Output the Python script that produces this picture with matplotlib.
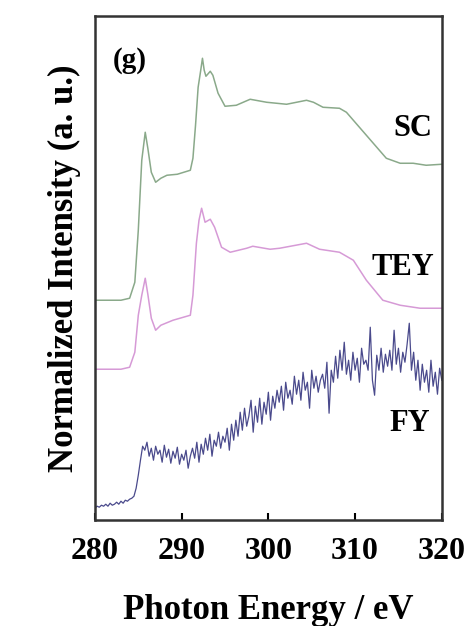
import numpy as np
import matplotlib
matplotlib.use("Agg")
import matplotlib.pyplot as plt

plt.rcParams['font.family'] = ['Liberation Serif', 'DejaVu Serif']
plt.rcParams['font.weight'] = 'bold'

# SC spectrum (offset already applied, arbitrary units)
sc_energy = [280.0, 283.0, 284.0, 284.6, 285.0, 285.4, 285.8, 286.1, 286.5, 287.0,
             287.6, 288.3, 289.5, 291.0, 291.3, 291.6, 291.9, 292.2, 292.4, 292.6,
             292.8, 293.3, 293.6, 294.2, 295.0, 296.3, 297.9, 299.8, 302.1, 304.4,
             305.2, 306.3, 308.2, 309.0, 310.5, 312.1, 313.6, 315.2, 316.7, 318.2,
             320.0]
sc_int = [220, 220, 222, 238, 290, 360, 388, 372, 348, 338,
          342, 345, 346, 350, 362, 395, 433, 450, 462, 450,
          444, 449, 445, 427, 414, 415, 421, 418, 416, 420,
          418, 413, 412, 408, 393, 377, 362, 357, 357, 355,
          356]

# TEY spectrum
tey_energy = [280.0, 283.0, 284.0, 284.6, 285.0, 285.4, 285.8, 286.1, 286.5, 287.0,
              287.6, 289.0, 291.0, 291.3, 291.7, 292.0, 292.3, 292.7, 293.3, 293.8,
              294.6, 295.6, 297.5, 298.2, 300.2, 301.3, 304.4, 305.9, 308.2, 309.8,
              311.3, 313.2, 315.2, 317.5, 320.0]
tey_int = [151, 151, 153, 168, 205, 225, 242, 226, 202, 190,
           195, 200, 205, 225, 277, 300, 312, 298, 301, 293,
           273, 268, 272, 274, 271, 272, 277, 271, 268, 260,
           240, 220, 215, 212, 212]

# FY spectrum, 0.25 eV steps from 280 to 320 eV
fy_int = [12, 14, 13, 15, 14, 16, 14, 17, 15, 16, 18, 16, 19, 17, 20, 19, 21, 22, 24,
          32, 45, 60, 74, 70,
          78, 64, 72, 60, 74, 66, 70, 58, 75, 63, 71, 57, 69, 62, 73, 56, 66, 60, 70, 52, 64,
          72, 62, 78, 58, 76, 66, 82, 70, 86, 64, 80, 74, 88, 72, 84, 78, 92, 70, 96, 80,
          100, 84, 108, 90, 112, 94, 104, 120, 88, 114, 98, 122, 96, 118, 106, 128, 100, 124, 112, 130,
          118, 134, 110, 138, 122, 130, 116, 144, 126, 140, 120, 148, 130, 138, 112, 150, 132, 144, 128, 140,
          146, 132, 158, 107, 150, 138, 164, 142, 170, 150, 178, 146, 160, 140, 168, 150, 162, 138, 172, 156,
          160, 150, 193, 140, 125, 165, 150, 172, 148, 166, 154, 170, 150, 190, 156, 172, 148, 168, 158, 176,
          197, 150, 168, 140, 160, 130, 156, 138, 150, 128, 160, 134, 148, 126, 152, 140]
fy_energy = np.linspace(280, 320, len(fy_int))

labels = ["SC", "TEY", "FY"]

fig = plt.figure(figsize=(4.7, 6.26), dpi=100)
ax = fig.add_axes([0.202, 0.169, 0.738, 0.805])

ax.plot(sc_energy, sc_int, color='#8aa98a', lw=1.1)
ax.plot(tey_energy, tey_int, color='#d69ad6', lw=1.1)
ax.plot(fy_energy, fy_int, color='#4a4a8c', lw=0.9)

ax.text(316.7, 392, labels[0], fontsize=22, fontweight='bold', ha='center', va='center')
ax.text(315.5, 253, labels[1], fontsize=22, fontweight='bold', ha='center', va='center')
ax.text(316.3, 97, labels[2], fontsize=22, fontweight='bold', ha='center', va='center')
ax.text(284.0, 460, "(g)", fontsize=21, fontweight='bold', ha='center', va='center')

ax.set_xlim(280, 320)
ax.set_ylim(0, 504)
ax.set_xticks([280, 290, 300, 310, 320])
ax.set_yticks([])
ax.tick_params(axis='x', direction='in', length=5, width=1.5, labelsize=23, pad=12)
for lbl in ax.get_xticklabels():
    lbl.set_fontweight('bold')
for s in ax.spines.values():
    s.set_linewidth(1.8)
    s.set_color('#333333')

ax.set_xlabel("Photon Energy / eV", fontsize=25, fontweight='bold', labelpad=20)
ax.set_ylabel("Normalized Intensity (a. u.)", fontsize=25, fontweight='bold', labelpad=10)

plt.savefig("out.png", dpi=100)
